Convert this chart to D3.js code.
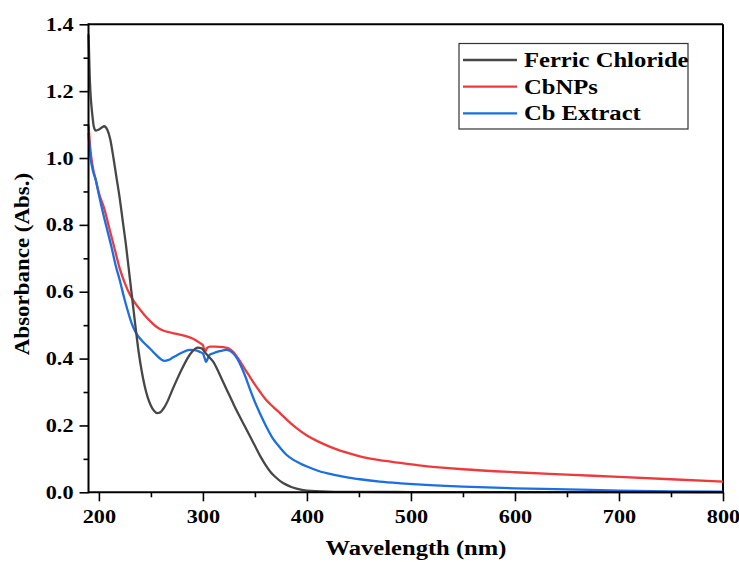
<!DOCTYPE html>
<html><head><meta charset="utf-8">
<script src="https://cdn.jsdelivr.net/npm/d3@7"></script>
<style>body{margin:0;background:#fff;} text{font-family:"Liberation Serif","Times New Roman",serif;font-weight:bold;fill:#000;}</style>
</head><body><svg id="c" width="739" height="562"></svg>
<script>
// ---- data ----
const seriesNames = ["Ferric Chloride", "CbNPs", "Cb Extract"];
const seriesColors = ["#474747", "#ee3a3c", "#1b6fe3"];
const ferricWl = [190,190.5,191,192,193,194,195,197,200,203,205,208,211,214,217,220,223,226,229,232,235,238,241,244,247,250,253,256,259,262,266,270,275,280,285,290,295,299,302,306,310,315,320,325,330,335,340,345,350,355,360,365,370,375,380,385,390,400,420,450,500,600,700,800];
const ferricAbs = [1.37,1.32,1.26,1.19,1.15,1.12,1.095,1.082,1.085,1.092,1.095,1.085,1.055,1.0,0.94,0.88,0.81,0.74,0.66,0.58,0.50,0.425,0.365,0.318,0.283,0.259,0.244,0.237,0.239,0.25,0.272,0.302,0.337,0.37,0.40,0.422,0.433,0.43,0.418,0.405,0.39,0.36,0.326,0.293,0.26,0.229,0.199,0.169,0.139,0.109,0.083,0.061,0.045,0.032,0.023,0.016,0.011,0.005,0.002,0.001,0.0008,0.0005,0.0003,0.0002];
const cbnpWl = [190,192,194,197,200,205,210,215,220,225,230,235,240,245,250,255,260,270,280,290,297,300,302,304,307,312,320,325,329,335,340,345,350,355,360,368,375,380,390,400,410,420,430,440,450,470,490,510,530,550,600,650,700,750,800];
const cbnpAbs = [1.10,1.02,0.975,0.934,0.895,0.85,0.79,0.73,0.67,0.625,0.59,0.565,0.545,0.526,0.51,0.496,0.486,0.477,0.47,0.46,0.447,0.44,0.42,0.432,0.436,0.436,0.434,0.43,0.42,0.395,0.37,0.346,0.322,0.30,0.279,0.254,0.234,0.219,0.192,0.17,0.153,0.139,0.127,0.117,0.108,0.096,0.088,0.08,0.074,0.069,0.06,0.053,0.046,0.039,0.032];
const extractWl = [190,192,194,197,200,204,208,212,216,220,224,228,231,234,237,241,245,250,255,260,263,267,271,275,280,287,292,297,300,302,303,304,306,310,316,323,329,333,337,341,345,350,355,361,367,374,380,387,393,400,412,425,440,451,470,490,510,550,600,650,700,750,800];
const extractAbs = [1.075,1.00,0.965,0.934,0.89,0.835,0.785,0.735,0.68,0.635,0.585,0.54,0.51,0.487,0.47,0.455,0.442,0.427,0.411,0.397,0.393,0.396,0.403,0.41,0.418,0.426,0.425,0.42,0.415,0.398,0.39,0.395,0.41,0.416,0.422,0.426,0.416,0.40,0.375,0.345,0.31,0.27,0.235,0.196,0.162,0.134,0.113,0.097,0.087,0.077,0.063,0.053,0.044,0.039,0.032,0.027,0.023,0.017,0.012,0.009,0.005,0.003,0.002];
const xMajorTicks = [200,300,400,500,600,700,800];
const xMinorTicks = [250,350,450,550,650,750];
const yMajorTicks = [0.0,0.2,0.4,0.6,0.8,1.0,1.2,1.4];
const yMinorTicks = [0.1,0.3,0.5,0.7,0.9,1.1,1.3];
const xTitle = "Wavelength (nm)";
const yTitle = "Absorbance (Abs.)";

// ---- layout ----
const L = 88.5, R = 723, T = 24.3, B = 492.3;
const svg = d3.select("#c");
const x = d3.scaleLinear().domain([190, 800]).range([L, R]);
const y = d3.scaleLinear().domain([0, 1.4]).range([B, T]);
const SX = 1.17;

// frame top & right
svg.append("line").attr("x1", L).attr("x2", R).attr("y1", T).attr("y2", T).attr("stroke", "#000").attr("stroke-width", 2);
svg.append("line").attr("x1", R).attr("x2", R).attr("y1", T).attr("y2", B).attr("stroke", "#000").attr("stroke-width", 2);

// series
const series = [
  {wl: ferricWl, v: ferricAbs},
  {wl: cbnpWl, v: cbnpAbs},
  {wl: extractWl, v: extractAbs}
];
const line = d3.line().x(d => x(d[0])).y(d => y(d[1])).curve(d3.curveMonotoneX);
const order = [1, 2, 0];
order.forEach(i => {
  const s = series[i];
  const pts = s.wl.map((w, k) => [w, s.v[k]]);
  svg.append("path").attr("d", line(pts)).attr("fill", "none")
    .attr("stroke", seriesColors[i]).attr("stroke-width", 2.3).attr("stroke-linejoin", "round");
});

// axes
const gx = svg.append("g").attr("transform", `translate(0,${B})`)
  .call(d3.axisBottom(x).tickValues(xMajorTicks).tickSize(9).tickSizeOuter(0).tickPadding(8).tickFormat(d3.format("d")));
svg.append("g").attr("transform", `translate(0,${B})`)
  .call(d3.axisBottom(x).tickValues(xMinorTicks).tickSize(5).tickSizeOuter(0).tickFormat(""))
  .select(".domain").remove();
const gy = svg.append("g").attr("transform", `translate(${L},0)`)
  .call(d3.axisLeft(y).tickValues(yMajorTicks).tickSize(9).tickSizeOuter(0).tickPadding(5).tickFormat(d3.format(".1f")));
svg.append("g").attr("transform", `translate(${L},0)`)
  .call(d3.axisLeft(y).tickValues(yMinorTicks).tickSize(5).tickSizeOuter(0).tickFormat(""))
  .select(".domain").remove();
gx.select(".domain").remove();
gy.select(".domain").remove();
svg.append("line").attr("x1", L).attr("x2", R + 1).attr("y1", B).attr("y2", B).attr("stroke", "#000").attr("stroke-width", 2);
svg.append("line").attr("x1", L).attr("x2", L).attr("y1", T - 1).attr("y2", B + 1).attr("stroke", "#000").attr("stroke-width", 2);
svg.selectAll(".tick line").attr("stroke-width", 1.6);
gx.selectAll(".tick text").attr("font-size", 19).attr("font-family", "Liberation Serif").attr("font-weight", "bold")
  .attr("transform", `scale(${SX},1)`);
gy.selectAll(".tick text").attr("font-size", 19).attr("font-family", "Liberation Serif").attr("font-weight", "bold")
  .attr("x", -15 / SX).attr("transform", `scale(${SX},1)`);

// titles
svg.append("text").attr("transform", `translate(416,555) scale(1.17,1)`).attr("text-anchor", "middle")
  .attr("font-size", 21).text(xTitle);
svg.append("text").attr("transform", `translate(29,264) rotate(-90) scale(1.12,1)`).attr("text-anchor", "middle")
  .attr("font-size", 20.5).text(yTitle);

// legend
const lg = svg.append("g");
lg.append("rect").attr("x", 459).attr("y", 43.5).attr("width", 229).attr("height", 85.5)
  .attr("fill", "#fff").attr("stroke", "#333").attr("stroke-width", 1.2);
const rowY = [60, 86.7, 113.3];
seriesNames.forEach((n, i) => {
  lg.append("line").attr("x1", 463).attr("x2", 517).attr("y1", rowY[i]).attr("y2", rowY[i])
    .attr("stroke", seriesColors[i]).attr("stroke-width", 2.3);
  lg.append("text").attr("transform", `translate(524,${rowY[i] + 6.8}) scale(1.23,1)`)
    .attr("font-size", 20).text(n);
});
</script></body></html>
